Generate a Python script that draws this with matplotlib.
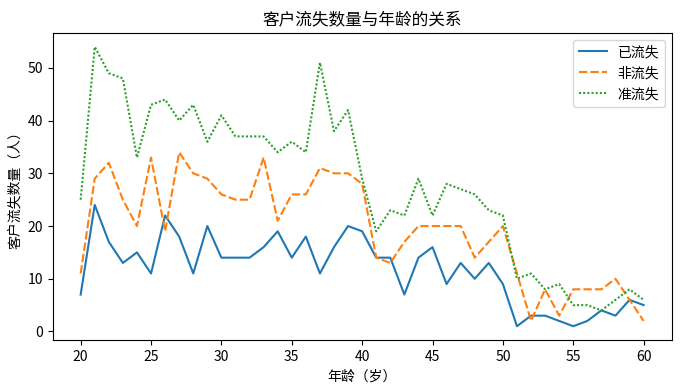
import matplotlib
matplotlib.use("Agg")
import matplotlib.pyplot as plt

plt.rcParams['font.family'] = ['Noto Sans CJK SC', 'DejaVu Sans']
plt.rcParams['axes.unicode_minus'] = False

ages = list(range(20, 61))
churned = [7, 24, 17, 13, 15, 11, 22, 18, 11, 20,
           14, 14, 14, 16, 19, 14, 18, 11, 16, 20,
           19, 14, 14, 7, 14, 16, 9, 13, 10, 13,
           9, 1, 3, 3, 2, 1, 2, 4, 3, 6, 5]
stayed = [11, 29, 32, 25, 20, 33, 19, 34, 30, 29,
          26, 25, 25, 33, 21, 26, 26, 31, 30, 30,
          28, 14, 13, 17, 20, 20, 20, 20, 14, 17,
          20, 11, 2, 8, 3, 8, 8, 8, 10, 6, 2]
near_churn = [25, 54, 49, 48, 33, 43, 44, 40, 43, 36,
              41, 37, 37, 37, 34, 36, 34, 51, 38, 42,
              29, 19, 23, 22, 29, 22, 28, 27, 26, 23,
              22, 10, 11, 8, 9, 5, 5, 4, 6, 8, 6]
labels = ['已流失', '非流失', '准流失']

fig = plt.figure(figsize=(6.82, 3.91), dpi=100)
ax = fig.add_axes([0.077, 0.13, 0.908, 0.786])

ax.plot(ages, churned, color='#1f77b4', lw=1.5, label=labels[0])
ax.plot(ages, stayed, color='#ff7f0e', lw=1.5, dashes=(4, 1.5), label=labels[1])
ax.plot(ages, near_churn, color='#2ca02c', lw=1.5, dashes=(1, 1), label=labels[2])

ax.set_xticks(range(20, 61, 5))
ax.set_yticks(range(0, 51, 10))
ax.set_title('客户流失数量与年龄的关系', fontsize=12)
ax.set_xlabel('年龄（岁）', fontsize=10)
ax.set_ylabel('客户流失数量（人）', fontsize=10)
ax.tick_params(labelsize=10)
ax.legend(loc='upper right', fontsize=10)

fig.savefig('out.png', dpi=100)
